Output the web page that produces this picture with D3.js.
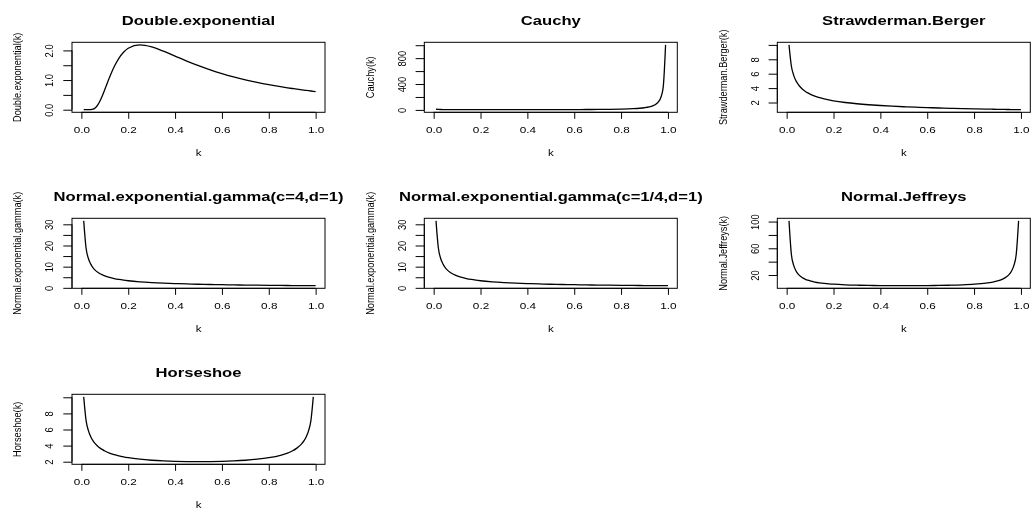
<!DOCTYPE html>
<html><head><meta charset="utf-8">
<script src="https://cdn.jsdelivr.net/npm/d3@7"></script>
<style>
html,body{margin:0;padding:0;background:#fff;}
svg{display:block;}
text{font-family:"Liberation Sans",Arial,Helvetica,sans-serif;fill:#000;}
</style></head><body>
<svg id="chart" width="1032" height="509"></svg>
<script>
// ---- data ----
const k = [0.01,0.02,0.03,0.04,0.05,0.06,0.07,0.08,0.09,0.10,0.12,0.14,0.16,0.18,0.20,0.25,0.30,0.35,0.40,0.45,0.50,0.55,0.60,0.65,0.70,0.75,0.80,0.85,0.88,0.90,0.92,0.94,0.95,0.96,0.97,0.98,0.99,1.00];

const doubleExponential = [0,0,0.0001,0.0024,0.0183,0.0674,0.1629,0.3046,0.4820,0.6803,1.0871,1.4484,1.7329,1.9376,2.0720,2.1863,2.1189,1.9752,1.8080,1.6414,1.4858,1.3448,1.2189,1.1073,1.0087,0.9216,0.8444,0.7760,0.7387,0.7152,0.6927,0.6713,0.6609,0.6508,0.6409,0.6312,0.6217,0.6124];
const cauchy = [10.15,7.29,6.04,5.32,4.83,4.48,4.22,4.01,3.84,3.70,3.50,3.35,3.25,3.17,3.13,3.08,3.12,3.23,3.40,3.66,4.00,4.47,5.10,5.99,7.27,9.24,12.50,18.67,25.64,33.33,46.08,70.18,91.77,127.6,195.4,357.1,1005,null];
const strawdermanBerger = [10,7.071,5.774,5,4.472,4.082,3.780,3.536,3.333,3.162,2.887,2.673,2.5,2.357,2.236,2,1.826,1.690,1.581,1.491,1.414,1.348,1.291,1.240,1.195,1.155,1.118,1.085,1.066,1.054,1.043,1.031,1.026,1.021,1.015,1.010,1.005,1];
const negC4 = [31.62,18.80,13.87,11.18,9.457,8.249,7.348,6.649,6.086,5.623,4.905,4.369,3.953,3.619,3.344,2.828,2.467,2.198,1.988,1.820,1.682,1.566,1.467,1.381,1.307,1.241,1.182,1.130,1.101,1.082,1.065,1.047,1.039,1.031,1.023,1.015,1.008,1];
const negC14 = [31.62,18.80,13.87,11.18,9.457,8.249,7.348,6.649,6.086,5.623,4.905,4.369,3.953,3.619,3.344,2.828,2.467,2.198,1.988,1.820,1.682,1.566,1.467,1.381,1.307,1.241,1.182,1.130,1.101,1.082,1.065,1.047,1.039,1.031,1.023,1.015,1.008,1];
const normalJeffreys = [101.0,51.02,34.36,26.04,21.05,17.73,15.36,13.59,12.21,11.11,9.470,8.306,7.440,6.775,6.25,5.333,4.762,4.396,4.167,4.040,4,4.040,4.167,4.396,4.762,5.333,6.25,7.843,9.470,11.11,13.59,17.73,21.05,26.04,34.36,51.02,101.0,null];
const horseshoe = [10.05,7.143,5.862,5.103,4.588,4.211,3.919,3.686,3.494,3.333,3.077,2.882,2.728,2.603,2.5,2.309,2.182,2.097,2.041,2.010,2,2.010,2.041,2.097,2.182,2.309,2.5,2.801,3.077,3.333,3.686,4.211,4.588,5.103,5.862,7.143,10.05,null];

const titles = ["Double.exponential","Cauchy","Strawderman.Berger","Normal.exponential.gamma(c=4,d=1)","Normal.exponential.gamma(c=1/4,d=1)","Normal.Jeffreys","Horseshoe"];
const yAxisTitles = ["Double.exponential(k)","Cauchy(k)","Strawderman.Berger(k)","Normal.exponential.gamma(k)","Normal.exponential.gamma(k)","Normal.Jeffreys(k)","Horseshoe(k)"];
const xAxisTitle = "k";

const xTicks = [0,0.2,0.4,0.6,0.8,1.0];
const xTickLabels = ["0.0","0.2","0.4","0.6","0.8","1.0"];

const deTicks = [0,0.5,1,1.5,2];            const deTickLabels = ["0.0","","1.0","","2.0"];
const cauchyTicks = [0,200,400,600,800,1000]; const cauchyTickLabels = ["0","","400","","800",""];
const sbTicks = [2,4,6,8,10];               const sbTickLabels = ["2","4","6","8",""];
const negTicks = [0,5,10,15,20,25,30];      const negTickLabels = ["0","","10","","20","","30"];
const njTicks = [20,40,60,80,100];          const njTickLabels = ["20","","60","","100"];
const hsTicks = [2,4,6,8,10];               const hsTickLabels = ["2","4","6","8",""];

const panels = [
  {values: doubleExponential, ticks: deTicks, labels: deTickLabels},
  {values: cauchy, ticks: cauchyTicks, labels: cauchyTickLabels},
  {values: strawdermanBerger, ticks: sbTicks, labels: sbTickLabels},
  {values: negC4, ticks: negTicks, labels: negTickLabels},
  {values: negC14, ticks: negTicks, labels: negTickLabels},
  {values: normalJeffreys, ticks: njTicks, labels: njTickLabels},
  {values: horseshoe, ticks: hsTicks, labels: hsTickLabels}
].map((p,i)=>Object.assign(p,{title:titles[i], ylab:yAxisTitles[i]}));

// ---- layout ----
const colLeft = [72, 424.3, 777.3];
const rowTop = [42.3, 218.3, 394.3];
const BOX_W = 253, BOX_H = 70;
const SX = 1.25; // horizontal stretch of text
const TICK_FONT = 9.4, LAB_FONT = 9.2, TITLE_FONT = 13.3;

const svg = d3.select("#chart");
const root = svg.append("g").style("opacity",0.999);

panels.forEach((p,i)=>{
  const left = colLeft[i%3], top = rowTop[Math.floor(i/3)];
  const x = d3.scaleLinear().domain([-0.04,1.04]).range([left,left+BOX_W]);
  const vals = p.values.filter(v=>v!=null);
  const mn = d3.min(vals), mx = d3.max(vals), r = mx-mn;
  const y = d3.scaleLinear().domain([mn-0.04*r, mx+0.04*r]).range([top+BOX_H, top]);
  const g = root.append("g");

  const line = d3.line().defined(d=>d[1]!=null).x(d=>x(d[0])).y(d=>y(d[1])).curve(d3.curveMonotoneX);
  g.append("path").datum(k.map((kk,j)=>[kk,p.values[j]]))
    .attr("d",line).attr("fill","none").attr("stroke","#000").attr("stroke-width",1.3);

  g.append("rect").attr("x",left).attr("y",top).attr("width",BOX_W).attr("height",BOX_H)
    .attr("fill","none").attr("stroke","#000").attr("stroke-width",1);

  // x axis
  const xa = g.append("g").attr("transform",`translate(0,${top+BOX_H})`)
    .call(d3.axisBottom(x).tickValues(xTicks).tickSize(6.5).tickSizeOuter(0)
      .tickFormat((d,j)=>xTickLabels[j]));
  xa.select(".domain").remove();
  xa.append("line").attr("x1",x(xTicks[0])).attr("x2",x(xTicks[xTicks.length-1]))
    .attr("stroke","#000").attr("stroke-width",1);
  xa.selectAll(".tick text").attr("y",null).attr("dy",null)
    .attr("transform",`translate(0,17) scale(${SX},1)`)
    .attr("dominant-baseline","central").attr("font-size",TICK_FONT).attr("font-family",null).attr("fill","#000");

  // y axis
  const ya = g.append("g").attr("transform",`translate(${left},0)`)
    .call(d3.axisLeft(y).tickValues(p.ticks).tickSize(8.7).tickSizeOuter(0)
      .tickFormat((d,j)=>p.labels[j]));
  ya.select(".domain").remove();
  ya.append("line").attr("y1",y(p.ticks[0])).attr("y2",y(p.ticks[p.ticks.length-1]))
    .attr("stroke","#000").attr("stroke-width",1);
  ya.selectAll(".tick text").attr("x",null).attr("dy",null)
    .attr("transform",`translate(-23,0) scale(${SX},1) rotate(-90)`)
    .attr("text-anchor","middle").attr("dominant-baseline","central")
    .attr("font-size",TICK_FONT).attr("font-family",null).attr("fill","#000");

  // titles
  g.append("text").attr("transform",`translate(${left+BOX_W/2},${top-22.5}) scale(${SX},1)`)
    .attr("text-anchor","middle").attr("dominant-baseline","central")
    .attr("font-weight","bold").attr("font-size",TITLE_FONT).text(p.title);
  g.append("text").attr("transform",`translate(${left+BOX_W/2},${top+BOX_H+41}) scale(${SX},1)`)
    .attr("text-anchor","middle").attr("dominant-baseline","central")
    .attr("font-size",LAB_FONT).text(xAxisTitle);
  g.append("text").attr("transform",`translate(${left-54.5},${top+BOX_H/2}) scale(${SX},1) rotate(-90)`)
    .attr("text-anchor","middle").attr("dominant-baseline","central")
    .attr("font-size",LAB_FONT).text(p.ylab);
});
</script>
</body></html>
